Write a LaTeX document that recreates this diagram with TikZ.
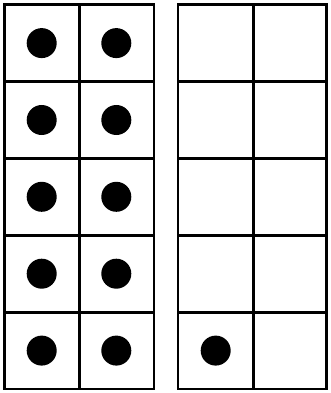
\documentclass[tikz,border=0pt]{standalone}
\usepackage{tikz}

\begin{document}
\begin{tikzpicture}[x=1pt, y=-1pt,
        frame/.style={draw=black, line width=2.7pt},
        counter/.style={circle, fill=black, inner sep=0pt, minimum size=30pt}
    ]
        \useasboundingbox (0,0) rectangle (331,393);

        % Left ten-frame
        \draw[frame] (4.7,4.7) rectangle (154,389);
        \draw[frame] (79.3,4.7) -- (79.3,389);
        \foreach \y in {81.6,158.4,235.3,312.2}
            \draw[frame] (4.7,\y) -- (154,\y);

        % Right ten-frame
        \draw[frame] (178,4.7) rectangle (326.7,389);
        \draw[frame] (253.3,4.7) -- (253.3,389);
        \foreach \y in {81.6,158.4,235.3,312.2}
            \draw[frame] (178,\y) -- (326.7,\y);

        % Counters (left frame full)
        \node[counter] (a1) at (41.7, 43.1) {};
        \node[counter] (b1) at (116.3, 43.1) {};
        \node[counter] (a2) at (41.7, 120) {};
        \node[counter] (b2) at (116.3, 120) {};
        \node[counter] (a3) at (41.7, 196.8) {};
        \node[counter] (b3) at (116.3, 196.8) {};
        \node[counter] (a4) at (41.7, 273.7) {};
        \node[counter] (b4) at (116.3, 273.7) {};
        \node[counter] (a5) at (41.7, 350.6) {};
        \node[counter] (b5) at (116.3, 350.6) {};

        % Counter (right frame)
        \node[counter] (c5) at (215.7, 350.6) {};

    \end{tikzpicture}
\end{document}
